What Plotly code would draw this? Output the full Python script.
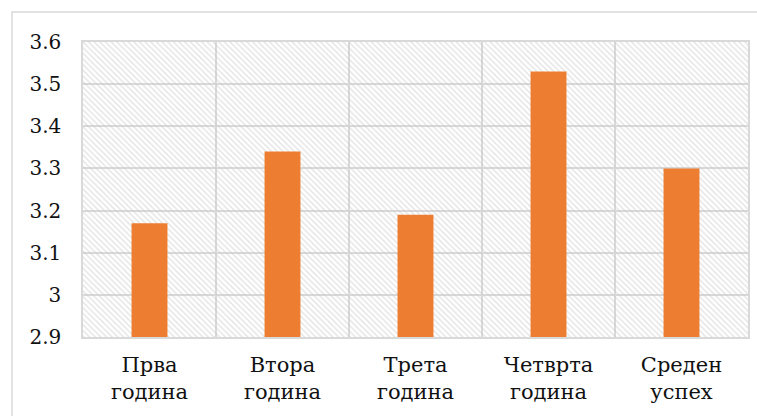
import plotly.graph_objects as go

categories = ["Прва<br>година", "Втора<br>година", "Трета<br>година", "Четврта<br>година", "Среден<br>успех"]
values = [3.17, 3.34, 3.19, 3.53, 3.30]
y_ticks = [2.9, 3.0, 3.1, 3.2, 3.3, 3.4, 3.5, 3.6]
y_tick_labels = ["2.9", "3", "3.1", "3.2", "3.3", "3.4", "3.5", "3.6"]
Y_MIN, Y_MAX = 2.9, 3.6

FONT = "DejaVu Serif"
GRID = "#d9d9d9"

fig = go.Figure()

# hatched plot-area background
fig.add_trace(go.Bar(
    x=categories, y=[Y_MAX - Y_MIN] * len(categories), base=Y_MIN, width=1,
    marker=dict(color="rgba(0,0,0,0)", line=dict(width=0),
                pattern=dict(shape="\\", fgcolor="#c8c8c8", bgcolor="rgba(0,0,0,0)",
                             size=4, solidity=0.35)),
    hoverinfo="skip", showlegend=False,
))

fig.add_trace(go.Bar(
    x=categories, y=[v - Y_MIN for v in values], base=Y_MIN, width=0.27,
    marker=dict(color="#ED7D31", line=dict(width=0)),
    showlegend=False,
))

fig.update_layout(
    width=757, height=416,
    margin=dict(l=83, r=9, t=42, b=79, autoexpand=False),
    paper_bgcolor="white", plot_bgcolor="white",
    barmode="overlay",
    font=dict(family=FONT, size=20, color="#111111"),
    shapes=[dict(type="rect", xref="paper", yref="paper",
                 x0=-0.1068, x1=1.2, y0=-0.6, y1=1.1017,
                 line=dict(color=GRID, width=1.5), layer="below")],
)
fig.update_xaxes(
    type="category", tickson="boundaries", showgrid=True, gridcolor=GRID, gridwidth=1.5,
    ticks="", showline=True, mirror=True, linecolor=GRID, linewidth=1.5,
    ticklabelstandoff=8, tickfont=dict(family=FONT, size=21), automargin=False,
)
fig.update_yaxes(
    range=[Y_MIN, Y_MAX], tickvals=y_ticks, ticktext=y_tick_labels,
    showgrid=True, gridcolor=GRID, gridwidth=1.5, zeroline=False,
    ticks="", showline=True, mirror=True, linecolor=GRID, linewidth=1.5,
    ticklabelstandoff=16, tickfont=dict(family=FONT, size=20), automargin=False,
)

fig.write_html("out.html", config={"displayModeBar": False},
               post_script="document.body.style.margin='0';")
